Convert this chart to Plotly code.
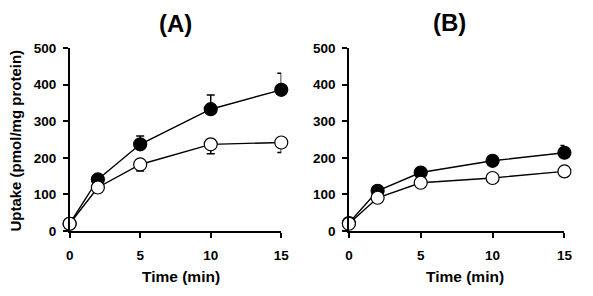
import plotly.graph_objects as go

time = [0, 2, 5, 10, 15]

# Panel A
a_filled = [20, 141, 237, 333, 386]
a_filled_err = [0, 5, 23, 39, 45]
a_open = [20, 119, 182, 237, 242]
a_open_err = [0, 4, 18, 26, 27]

# Panel B
b_filled = [22, 110, 160, 192, 214]
b_filled_err = [0, 4, 6, 6, 20]
b_open = [20, 91, 132, 145, 163]
b_open_err = [0, 3, 4, 5, 5]

panel_titles = ["(A)", "(B)"]
y_title = "Uptake (pmol/mg protein)"
x_title = "Time (min)"
y_ticks = [0, 100, 200, 300, 400, 500]
x_ticks = [0, 5, 10, 15]

W, H = 593, 296
FONT = "Liberation Sans, Arial, sans-serif"

fig = go.Figure()

def add_series(y, err, filled, xa, ya):
    fig.add_trace(go.Scatter(
        x=time, y=y, mode="lines+markers",
        xaxis=xa, yaxis=ya,
        line=dict(color="black", width=1.4),
        marker=dict(size=13, color="black" if filled else "white",
                    line=dict(color="black", width=1.2)),
        error_y=dict(type="data", symmetric=False,
                     array=err if filled else [0]*len(err),
                     arrayminus=[0]*len(err) if filled else err,
                     color="black", thickness=1.5, width=4),
        cliponaxis=False, showlegend=False,
    ))

add_series(a_filled, a_filled_err, True, "x", "y")
add_series(a_open, a_open_err, False, "x", "y")
add_series(b_filled, b_filled_err, True, "x2", "y2")
add_series(b_open, b_open_err, False, "x2", "y2")

y_dom = [1 - 236 / H, 1 - 43.3 / H]
xa_dom = [67 / W, 283 / W]
xb_dom = [352 / W, 572 / W]

axis_common = dict(
    showline=True, linecolor="black", linewidth=1.5,
    ticks="outside", ticklen=5, tickwidth=1.5, tickcolor="black",
    showgrid=False, zeroline=False,
    tickfont=dict(family=FONT, size=13.5, color="black", weight="bold"),
)

fig.update_layout(
    width=W, height=H,
    margin=dict(l=0, r=0, t=0, b=0),
    plot_bgcolor="white", paper_bgcolor="white",
    xaxis=dict(domain=xa_dom, range=[0, 15], tickvals=x_ticks, anchor="y",
               ticklabelstandoff=6, **axis_common),
    yaxis=dict(domain=y_dom, range=[0, 500], tickvals=y_ticks, anchor="x",
               ticklabelstandoff=4, **axis_common),
    xaxis2=dict(domain=xb_dom, range=[0, 15], tickvals=x_ticks, anchor="y2",
                ticklabelstandoff=6, **axis_common),
    yaxis2=dict(domain=y_dom, range=[0, 500], tickvals=y_ticks, anchor="x2",
                ticklabelstandoff=4, **axis_common),
)

def ann(text, x, y, size, angle=0):
    fig.add_annotation(text=text, x=x / W, y=1 - y / H, xref="paper", yref="paper",
                       showarrow=False, textangle=angle,
                       font=dict(family=FONT, size=size, color="black", weight="bold"),
                       xanchor="center", yanchor="middle")

ann(panel_titles[0], 175, 17, 24)
ann(panel_titles[1], 455, 16, 24)
ann(x_title, 181, 284, 15.5)
ann(x_title, 471, 284, 15.5)
ann(y_title, 12, 141, 15, angle=-90)

fig.write_html("out.html")
